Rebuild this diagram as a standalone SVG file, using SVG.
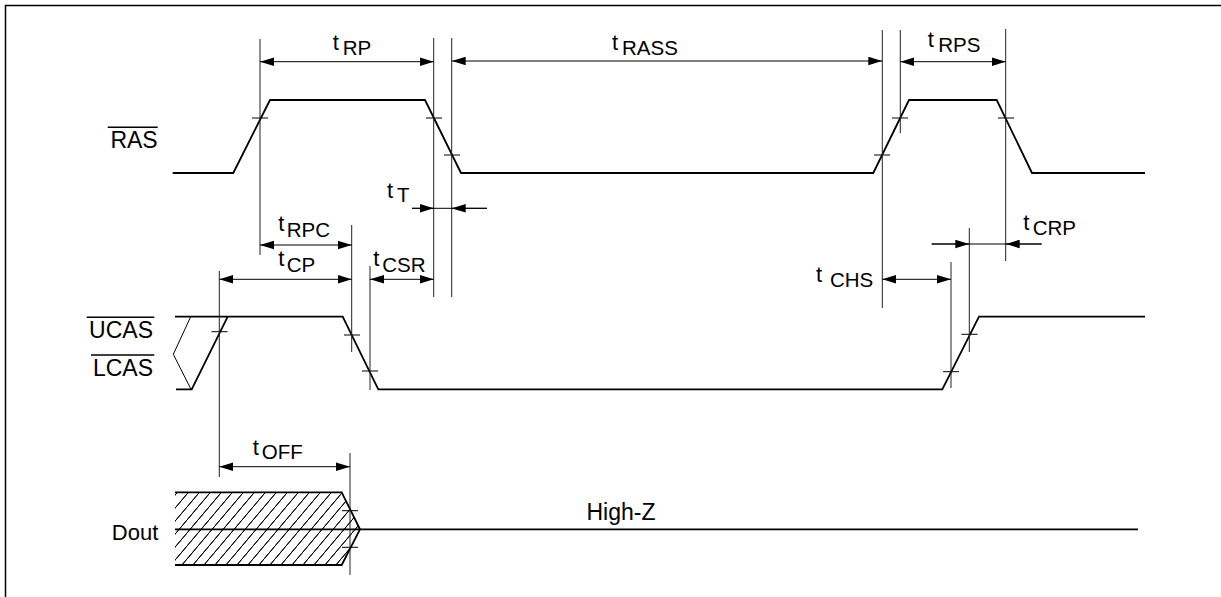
<svg xmlns="http://www.w3.org/2000/svg" width="1221" height="597" viewBox="0 0 1221 597">
<style>
.frame{stroke:#000;stroke-width:1.5;fill:none}
.wave{stroke:#000;stroke-width:1.8;fill:none;stroke-linejoin:miter}
.thin{stroke:#000;stroke-width:1;fill:none}
.ref{stroke:#222;stroke-width:1;fill:none}
.dim{stroke:#000;stroke-width:1;fill:none}
.tick{stroke:#000;stroke-width:1}
.ovl{stroke:#000;stroke-width:1.5}
text{font-family:"Liberation Sans",Arial,sans-serif;fill:#000}
.sig{font-size:23px}
.t{font-size:22px}
.sub{font-size:20.5px}
</style>
<defs>
<marker id="ah" markerUnits="userSpaceOnUse" markerWidth="14" markerHeight="9" refX="14" refY="4.3" orient="auto-start-reverse" viewBox="0 0 14 8.6">
<path d="M0,0 L14,4.3 L0,8.6 z" fill="#000"/>
</marker>
<pattern id="hatch" patternUnits="userSpaceOnUse" width="11" height="13" x="0" y="0">
<line x1="-11" y1="26" x2="11" y2="0" stroke="#000" stroke-width="1"/>
<line x1="0" y1="13" x2="11" y2="0" stroke="#000" stroke-width="1"/>
<line x1="0" y1="26" x2="22" y2="0" stroke="#000" stroke-width="1"/>
</pattern>
</defs>
<rect width="1221" height="597" fill="#fff"/>
<path class="frame" d="M5.5,597 V5.5 H1221"/>

<g id="ras">
<polyline class="wave" points="172.7,173 233.3,173 270,100 425,100 461,173 873.3,173 909,100 996.7,100 1032,173 1145,173"/>
<line class="ovl" x1="107.7" y1="127.3" x2="157.7" y2="127.3"/>
<text class="sig" x="157.7" y="148.3" text-anchor="end">RAS</text>
<line class="tick" x1="252" y1="118" x2="268" y2="118"/>
<line class="tick" x1="426" y1="118" x2="442" y2="118"/>
<line class="tick" x1="444" y1="155" x2="460" y2="155"/>
<line class="tick" x1="874" y1="155" x2="890" y2="155"/>
<line class="tick" x1="892" y1="118" x2="908" y2="118"/>
<line class="tick" x1="998" y1="118" x2="1014" y2="118"/>
</g>

<g id="cas">
<polyline class="wave" points="175,316.7 342.7,316.7 378.3,389.3 942.3,389.3 979,316.7 1145,316.7"/>
<polyline class="wave" points="176,389.3 191.7,389.3 227.7,316.7"/>
<polyline class="thin" points="190.7,316.7 173.3,354.3 191,389.3"/>
<line class="ovl" x1="86.7" y1="317.3" x2="154.3" y2="317.3"/>
<text class="sig" x="153" y="338.3" text-anchor="end">UCAS</text>
<line class="ovl" x1="91" y1="355" x2="154.3" y2="355"/>
<text class="sig" x="153" y="376" text-anchor="end">LCAS</text>
<line class="tick" x1="211.5" y1="331.7" x2="227.5" y2="331.7"/>
<line class="tick" x1="344" y1="335" x2="360" y2="335"/>
<line class="tick" x1="362" y1="371" x2="378" y2="371"/>
<line class="tick" x1="943" y1="371.7" x2="959" y2="371.7"/>
<line class="tick" x1="961.5" y1="334.3" x2="977.5" y2="334.3"/>
</g>

<g id="dout">
<polygon points="175,492.3 341.7,492.3 360,529.3 341.7,565 175,565" fill="url(#hatch)" stroke="none"/>
<polyline class="wave" points="175,492.3 341.7,492.3 360,529.3 341.7,565 175,565"/>
<line class="wave" x1="175" y1="529.3" x2="1138" y2="529.3"/>
<text class="t" x="158.3" y="540" text-anchor="end">Dout</text>
<text x="621" y="520" text-anchor="middle" font-size="23">High-Z</text>
<line class="tick" x1="342" y1="510.7" x2="358" y2="510.7"/>
<line class="tick" x1="342" y1="547.3" x2="358" y2="547.3"/>
</g>

<g id="connectors">
<line class="ref" x1="260" y1="39" x2="260" y2="255"/>
<line class="ref" x1="433.7" y1="38" x2="433.7" y2="297"/>
<line class="ref" x1="451.7" y1="38" x2="451.7" y2="297"/>
<line class="ref" x1="882.3" y1="30" x2="882.3" y2="308"/>
<line class="ref" x1="900.3" y1="30" x2="900.3" y2="133"/>
<line class="ref" x1="1005.7" y1="29" x2="1005.7" y2="261"/>
<line class="ref" x1="351.7" y1="225" x2="351.7" y2="352"/>
<line class="ref" x1="219.3" y1="271" x2="219.3" y2="477"/>
<line class="ref" x1="370" y1="266" x2="370" y2="390"/>
<line class="ref" x1="951" y1="262" x2="951" y2="388"/>
<line class="ref" x1="969.3" y1="228" x2="969.3" y2="352"/>
<line class="ref" x1="350" y1="453" x2="350" y2="575"/>

<line class="dim" x1="260" y1="61.7" x2="433.7" y2="61.7" marker-start="url(#ah)" marker-end="url(#ah)"/>
<line class="dim" x1="451.7" y1="61" x2="882.3" y2="61" marker-start="url(#ah)" marker-end="url(#ah)"/>
<line class="dim" x1="900.3" y1="61.7" x2="1005.7" y2="61.7" marker-start="url(#ah)" marker-end="url(#ah)"/>
<line class="dim" x1="412" y1="208.3" x2="487" y2="208.3"/>
<line class="dim" x1="412" y1="208.3" x2="433.7" y2="208.3" marker-end="url(#ah)"/>
<line class="dim" x1="487" y1="208.3" x2="451.7" y2="208.3" marker-end="url(#ah)"/>
<line class="dim" x1="260" y1="245" x2="351.7" y2="245" marker-start="url(#ah)" marker-end="url(#ah)"/>
<line class="dim" x1="219.3" y1="279.3" x2="351.7" y2="279.3" marker-start="url(#ah)" marker-end="url(#ah)"/>
<line class="dim" x1="370" y1="279.3" x2="433.7" y2="279.3" marker-start="url(#ah)" marker-end="url(#ah)"/>
<line class="dim" x1="882.3" y1="279.3" x2="951" y2="279.3" marker-start="url(#ah)" marker-end="url(#ah)"/>
<line class="dim" x1="931.7" y1="244" x2="1041.7" y2="244"/>
<line class="dim" x1="931.7" y1="244" x2="969.3" y2="244" marker-end="url(#ah)"/>
<line class="dim" x1="1041.7" y1="244" x2="1005.7" y2="244" marker-end="url(#ah)"/>
<line class="dim" x1="219.3" y1="466.7" x2="350" y2="466.7" marker-start="url(#ah)" marker-end="url(#ah)"/>
</g>

<g id="timing-labels">
<text class="t" x="332.7" y="49.5">t</text><text class="sub" x="342.7" y="55">RP</text>
<text class="t" x="612" y="49.5">t</text><text class="sub" x="622" y="55">RASS</text>
<text class="t" x="927.7" y="46.5">t</text><text class="sub" x="938.3" y="51.7">RPS</text>
<text class="t" x="387" y="197.8">t</text><text class="sub" x="397" y="201.7">T</text>
<text class="t" x="278.3" y="231.2">t</text><text class="sub" x="286.7" y="237.3">RPC</text>
<text class="t" x="278.3" y="266.2">t</text><text class="sub" x="286.7" y="271.7">CP</text>
<text class="t" x="373.3" y="266.2">t</text><text class="sub" x="382.3" y="271.7">CSR</text>
<text class="t" x="816" y="282">t</text><text class="sub" x="873.3" y="287.3" text-anchor="end">CHS</text>
<text class="t" x="1023.3" y="229.5">t</text><text class="sub" x="1032.7" y="235">CRP</text>
<text class="t" x="252.7" y="455">t</text><text class="sub" x="261.7" y="459">OFF</text>
</g>
</svg>
